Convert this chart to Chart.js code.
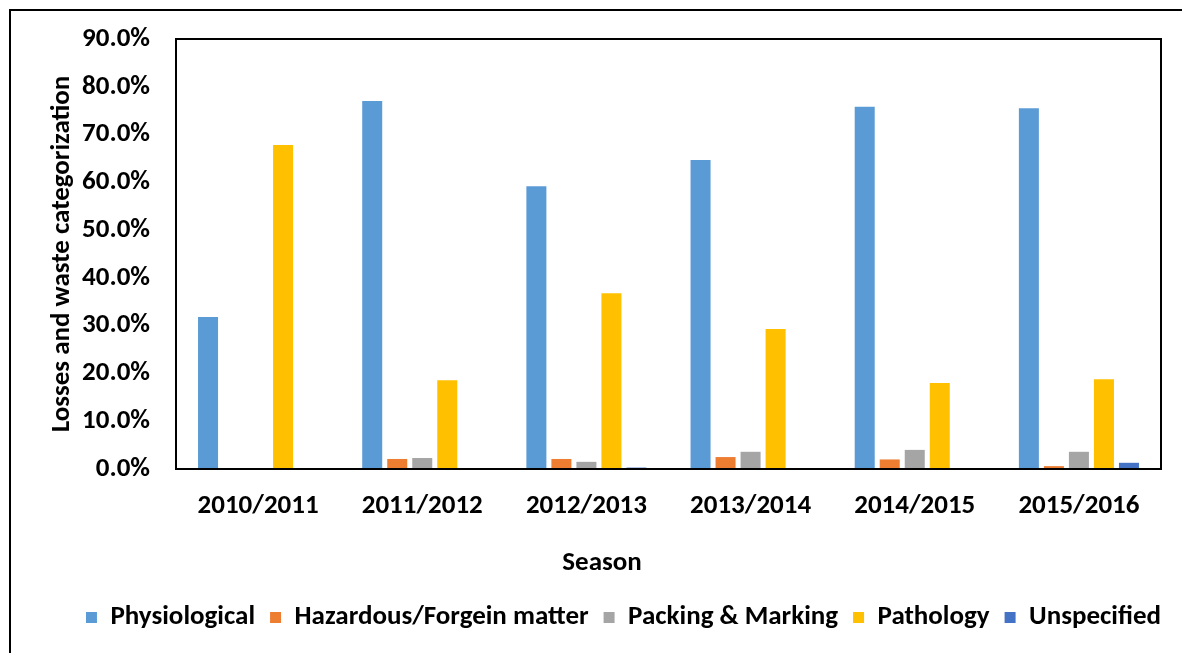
<!DOCTYPE html>
<html>
<head>
<meta charset="utf-8">
<title>Losses and waste categorization by season</title>
<script src="https://cdn.jsdelivr.net/npm/chart.js@4.4.0/dist/chart.umd.min.js"></script>
<style>
  html, body { margin: 0; padding: 0; background: #fff; }
  #wrap { position: relative; width: 1182px; height: 653px; overflow: hidden; }
  #frame { position: absolute; left: 9px; top: 9px; right: -10px; bottom: -10px;
           border-left: 2px solid #000; border-top: 2px solid #000; }
  canvas { position: absolute; left: 0; top: 0; }
</style>
</head>
<body>
<div id="wrap">
  <div id="frame"></div>
  <canvas id="lossChart" width="1182" height="653"></canvas>
</div>
<script>
// data (percent)
const seasons = ['2010/2011', '2011/2012', '2012/2013', '2013/2014', '2014/2015', '2015/2016'];
const physiological = [31.8, 77.0, 59.2, 64.7, 75.8, 75.5];
const hazardous = [0, 2.1, 2.1, 2.5, 2.0, 0.6];
const packing = [0.2, 2.3, 1.5, 3.6, 4.0, 3.6];
const pathology = [67.8, 18.6, 36.8, 29.3, 18.0, 18.8];
const unspecified = [0, 0, 0.3, 0, 0, 1.3];
const yTicks = [0, 10, 20, 30, 40, 50, 60, 70, 80, 90];

const FONT = "'Carlito', 'Liberation Sans Narrow', 'Liberation Sans', sans-serif";
const SIZE = 27;

// box around the plot area
const plotFrame = {
  id: 'plotFrame',
  afterDatasetsDraw(chart) {
    const { ctx, chartArea: a } = chart;
    ctx.save();
    ctx.strokeStyle = '#000';
    ctx.lineWidth = 2;
    ctx.strokeRect(a.left, a.top, a.right - a.left, a.bottom - a.top);
    ctx.restore();
  }
};

// x axis title sits left of the plot centre in the original
const seasonTitle = {
  id: 'seasonTitle',
  afterDraw(chart) {
    const ctx = chart.ctx;
    ctx.save();
    ctx.font = 'bold ' + SIZE + 'px ' + FONT;
    ctx.fillStyle = '#000';
    ctx.textAlign = 'center';
    ctx.textBaseline = 'middle';
    ctx.fillText('Season', chart.width / 2 + 11, chart.scales.x.top + 94);
    ctx.restore();
  }
};

// nudge the legend right a bit
const legendShift = {
  id: 'legendShift',
  afterLayout(chart) {
    chart.legend.left += 23;
    chart.legend.right += 23;
  }
};

const colors = ['#5B9BD5', '#ED7D31', '#A5A5A5', '#FFC000', '#4472C4'];
const names = ['Physiological', 'Hazardous/Forgein matter', 'Packing & Marking', 'Pathology', 'Unspecified'];
const series = [physiological, hazardous, packing, pathology, unspecified];

new Chart(document.getElementById('lossChart'), {
  type: 'bar',
  data: {
    labels: seasons,
    datasets: series.map((vals, i) => ({
      label: names[i],
      data: vals,
      backgroundColor: colors[i],
      borderWidth: 0,
      categoryPercentage: 0.762,
      barPercentage: 0.8
    }))
  },
  options: {
    responsive: false,
    animation: false,
    layout: { padding: { left: 40, right: 21, top: 39, bottom: 12 } },
    plugins: {
      tooltip: { enabled: false },
      legend: {
        position: 'bottom',
        labels: {
          boxWidth: 11,
          boxHeight: 11,
          padding: 15,
          color: '#000',
          font: { family: FONT, size: SIZE, weight: 'bold' }
        }
      }
    },
    scales: {
      x: {
        grid: { display: false },
        border: { display: false },
        ticks: {
          color: '#000',
          padding: 13,
          maxRotation: 0,
          font: { family: FONT, size: SIZE, weight: 'bold' }
        },
        afterFit(scale) { scale.height = 120; }
      },
      y: {
        min: 0,
        max: 90,
        grid: { display: false },
        border: { display: false },
        afterBuildTicks(scale) { scale.ticks = yTicks.map(v => ({ value: v })); },
        ticks: {
          color: '#000',
          padding: 18,
          callback: v => v.toFixed(1) + '%',
          font: { family: FONT, size: SIZE, weight: 'bold' }
        },
        title: {
          display: true,
          text: 'Losses and waste categorization',
          color: '#000',
          padding: { top: 6, bottom: 0 },
          font: { family: FONT, size: SIZE, weight: 'bold' }
        },
        afterFit(scale) { scale.width = 136; }
      }
    }
  },
  plugins: [plotFrame, seasonTitle, legendShift]
});
</script>
</body>
</html>
